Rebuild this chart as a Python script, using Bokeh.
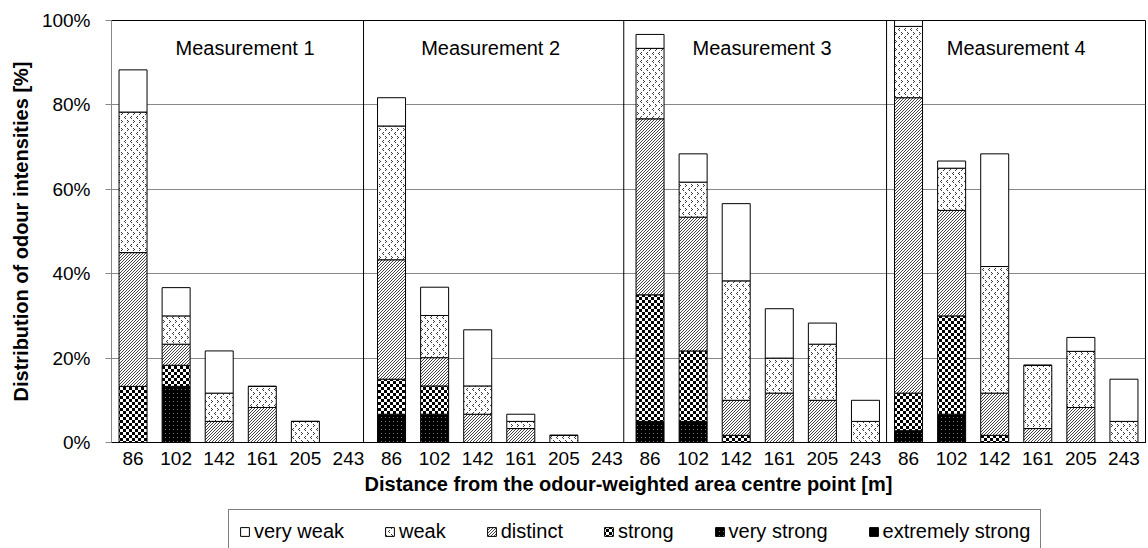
import numpy as np
from bokeh.plotting import figure
from bokeh.layouts import column
from bokeh.models import (Range1d, FixedTicker, PrintfTickFormatter, Legend, LegendItem,
                          CanvasTexture, Span, ColumnDataSource, CustomJSTickFormatter)
from bokeh.transform import stack
from bokeh.core.properties import value
from bokeh.embed import file_html
from bokeh.resources import INLINE

# ---------------- data ----------------
measurements = ["Measurement 1", "Measurement 2", "Measurement 3", "Measurement 4"]
distances = ["86", "102", "142", "161", "205", "243"]
tick_labels = distances * 4

series_names = ["extremely strong", "very strong", "strong", "distinct", "weak", "very weak"]

# values in %, order: M1 (86..243), M2, M3, M4
extremely_strong = [0, 0, 0, 0, 0, 0,  0, 0, 0, 0, 0, 0,  0, 0, 0, 0, 0, 0,  0, 0, 0, 0, 0, 0]
very_strong = [0, 13.3, 0, 0, 0, 0,  6.7, 6.7, 0, 0, 0, 0,  5.0, 5.0, 0, 0, 0, 0,  2.8, 6.7, 0, 0, 0, 0]
strong = [13.3, 5.0, 0, 0, 0, 0,  8.3, 6.7, 0, 0, 0, 0,  30.0, 16.7, 1.7, 0, 0, 0,  8.9, 23.3, 1.7, 0, 0, 0]
distinct = [31.7, 5.0, 5.0, 8.3, 0, 0,  28.3, 6.7, 6.7, 3.3, 0, 0,  41.7, 31.7, 8.3, 11.7, 10.0, 0,  70.0, 25.0, 10.0, 3.3, 8.3, 0]
weak = [33.3, 6.7, 6.7, 5.0, 5.0, 0,  31.7, 10.0, 6.7, 1.7, 1.7, 0,  16.7, 8.3, 28.3, 8.3, 13.3, 5.0,  16.9, 10.0, 30.0, 15.0, 13.3, 5.0]
very_weak = [10.0, 6.7, 10.0, 0, 0, 0,  6.7, 6.7, 13.3, 1.7, 0, 0,  3.3, 6.7, 18.3, 11.7, 5.0, 5.0,  1.4, 1.7, 26.7, 0, 3.3, 10.0]

y_ticks = [0, 20, 40, 60, 80, 100]

# layout constants (category-index units)
separator_pos = [5.85, 11.89, 17.99]
label_x = [3.1, 8.8, 15.1, 21.0]
label_y = 93.4

FONT = "Liberation Sans"

x = np.arange(len(tick_labels)) + 0.5
source = ColumnDataSource(dict(
    x=x,
    **{"extremely strong": extremely_strong, "very strong": very_strong, "strong": strong,
       "distinct": distinct, "weak": weak, "very weak": very_weak}))

# ---------------- textures (tile size set explicitly on the canvas) ----------------
tex_weak = CanvasTexture(code="""
const c = ctx.canvas; c.width = 6; c.height = 8;
ctx.fillStyle = '#3a3a3a';
ctx.fillRect(1,0,1,1); ctx.fillRect(2,1,1,1); ctx.fillRect(1,2,1,1);
ctx.fillRect(5,4,1,1); ctx.fillRect(4,5,1,1); ctx.fillRect(5,6,1,1);
""")
tex_distinct = CanvasTexture(code="""
const c = ctx.canvas; c.width = 3; c.height = 3;
ctx.fillStyle = '#444444';
for (let i = 0; i < 3; i++) { ctx.fillRect(i, 2 - i, 1, 1); }
""")
tex_strong = CanvasTexture(code="""
const c = ctx.canvas; c.width = 6; c.height = 6;
ctx.fillStyle = '#000';
ctx.fillRect(0,0,3,3); ctx.fillRect(3,3,3,3);
""")
tex_vstrong = CanvasTexture(code="""
const c = ctx.canvas; c.width = 4; c.height = 4;
ctx.fillStyle = '#7a7a7a';
ctx.fillRect(1,1,1,1);
""")

hatch_extra = {"dot": tex_weak, "right_diagonal_line": tex_distinct,
               "criss_cross": tex_strong, "ring": tex_vstrong}

styles = {
    "extremely strong": dict(fill_color="black", hatch_pattern=None),
    "very strong": dict(fill_color="black", hatch_pattern="ring"),
    "strong": dict(fill_color="white", hatch_pattern="criss_cross"),
    "distinct": dict(fill_color="white", hatch_pattern="right_diagonal_line"),
    "weak": dict(fill_color="white", hatch_pattern="dot"),
    "very weak": dict(fill_color="white", hatch_pattern=None),
}


def style_kwargs(name):
    st = styles[name]
    kw = dict(line_color="black", line_width=1, fill_color=st["fill_color"])
    if st["hatch_pattern"] is not None:
        kw.update(hatch_pattern=st["hatch_pattern"], hatch_extra=hatch_extra,
                  hatch_scale=6, hatch_color="black", hatch_weight=1)
    return kw


# ---------------- main figure ----------------
p = figure(width=1148, height=505, output_backend="svg", toolbar_location=None,
           title=None, x_range=Range1d(0, len(tick_labels)), y_range=Range1d(0, 100),
           min_border_left=111, min_border_right=3, min_border_top=20, min_border_bottom=63)
p.background_fill_color = "white"
p.border_fill_color = "white"
p.outline_line_color = "black"
p.outline_line_width = 1

for i, name in enumerate(series_names):
    p.vbar(x="x", width=0.65, bottom=stack(*series_names[:i]) if i > 0 else 0,
           top=stack(*series_names[:i + 1]), source=source, **style_kwargs(name))

for pos in separator_pos:
    p.add_layout(Span(location=pos, dimension="height", line_color="black", line_width=1))

p.text(x=label_x, y=[label_y] * 4, text=measurements, text_font=value(FONT),
       text_font_size="20px", text_align="center", text_baseline="middle", text_color="black")

p.xgrid.visible = False
p.ygrid.grid_line_color = "#888888"
p.ygrid.grid_line_width = 1
p.yaxis.ticker = FixedTicker(ticks=y_ticks)
p.yaxis.formatter = PrintfTickFormatter(format="%d%%")
p.yaxis.axis_line_color = "#888888"
p.yaxis.major_tick_line_color = "#888888"
p.yaxis.major_tick_out = 6
p.yaxis.major_tick_in = 0
p.yaxis.minor_tick_line_color = None
p.yaxis.major_label_standoff = 15
p.yaxis.axis_label = "Distribution of odour intensities [%]"
p.yaxis.axis_label_standoff = 7

p.xaxis.ticker = FixedTicker(ticks=list(x))
p.xaxis.formatter = CustomJSTickFormatter(args=dict(labels=tick_labels),
                                          code="return labels[Math.floor(tick)];")
p.xaxis.axis_line_color = "black"
p.xaxis.major_tick_line_color = None
p.xaxis.minor_tick_line_color = None
p.xaxis.major_tick_out = 0
p.xaxis.major_label_standoff = 9
p.xaxis.axis_label = "Distance from the odour-weighted area centre point [m]"
p.xaxis.axis_label_standoff = 5

for ax in (p.xaxis, p.yaxis):
    ax.major_label_text_font = FONT
    ax.major_label_text_font_size = "19px"
    ax.major_label_text_color = "black"
    ax.axis_label_text_font = FONT
    ax.axis_label_text_font_size = "20px"
    ax.axis_label_text_font_style = "bold"
    ax.axis_label_text_color = "black"

# ---------------- legend strip ----------------
q = figure(width=1148, height=43, output_backend="svg", toolbar_location=None,
           title=None, x_range=Range1d(0, 1), y_range=Range1d(0, 1),
           min_border=0, x_axis_type=None, y_axis_type=None)
q.outline_line_color = None
q.grid.visible = False
q.background_fill_color = "white"
q.border_fill_color = "white"

legend_order = ["very weak", "weak", "distinct", "strong", "very strong", "extremely strong"]
# placeholder glyphs (outside the visible range) that only carry the legend styles
hidden = ColumnDataSource(dict(x=[-5.0], top=[0.0]))
legend_renderers = {n: q.vbar(x="x", top="top", width=0.1, source=hidden, **style_kwargs(n))
                    for n in legend_order}

legend = Legend(items=[LegendItem(label=n, renderers=[legend_renderers[n]]) for n in legend_order],
                orientation="horizontal", location=(117, -6),
                border_line_color="black", border_line_width=1,
                label_text_font=FONT, label_text_font_size="20px", label_text_color="black",
                glyph_width=11, glyph_height=11, label_standoff=4, spacing=40,
                padding=10, margin=0, label_height=20)
q.add_layout(legend)

layout = column(p, q, spacing=0)
open("out.html", "w").write(file_html(layout, INLINE))
